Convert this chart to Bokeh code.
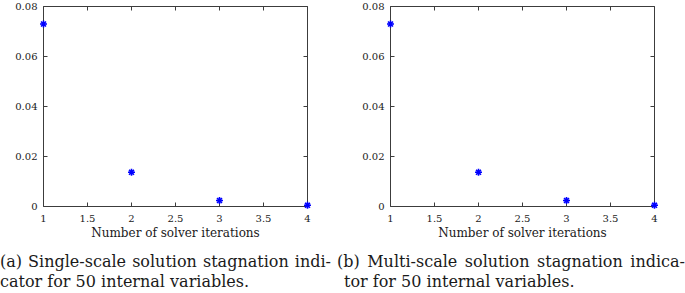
import math
from bokeh.plotting import figure
from bokeh.models import Range1d, FixedTicker, Div
from bokeh.layouts import row, column
from bokeh.embed import file_html
from bokeh.resources import INLINE

# ---- data ----
iterations = [1, 2, 3, 4]
single_scale = [0.0730, 0.0137, 0.0024, 0.0005]
multi_scale = [0.0730, 0.0137, 0.0024, 0.0005]

x_ticks = [1, 1.5, 2, 2.5, 3, 3.5, 4]
x_tick_labels = ["1", "1.5", "2", "2.5", "3", "3.5", "4"]
y_ticks = [0, 0.02, 0.04, 0.06, 0.08]
y_tick_labels = ["0", "0.02", "0.04", "0.06", "0.08"]

x_label = "Number of solver iterations"
caption_a = ["(a) Single-scale solution stagnation indi-", "cator for 50 internal variables."]
caption_b = ["(b) Multi-scale solution stagnation indica-", "tor for 50 internal variables."]

FONT = "DejaVu Serif"
AX = "#3c3c3c"
TXT = "#1a1a1a"

BOX_W, BOX_H, PAD = 264, 200, 6   # axes box size in px, padding so edge markers are not cut


def make_panel(values, left_border, right_border):
    x0, x1 = x_ticks[0], x_ticks[-1]
    y0, y1 = y_ticks[0], y_ticks[-1]
    px = (x1 - x0) * PAD / BOX_W
    py = (y1 - y0) * PAD / BOX_H
    p = figure(frame_width=BOX_W + 2 * PAD, frame_height=BOX_H + 2 * PAD,
               output_backend="svg", toolbar_location=None,
               x_range=Range1d(x0 - px, x1 + px), y_range=Range1d(y0 - py, y1 + py),
               min_border_left=left_border, min_border_right=right_border,
               min_border_top=0, min_border_bottom=40)
    p.xgrid.visible = False
    p.ygrid.visible = False
    p.outline_line_color = None
    p.background_fill_color = "white"
    p.border_fill_color = "white"

    # axes box
    p.quad(left=x0, right=x1, bottom=y0, top=y1, fill_color=None,
           line_color=AX, line_width=1)
    # inward ticks on all four edges
    n, m = len(x_ticks), len(y_ticks)
    p.ray(x=x_ticks, y=[y1] * n, length=4, length_units="screen",
          angle=-math.pi / 2, line_color=AX, line_width=1)
    p.ray(x=x_ticks, y=[y0] * n, length=4, length_units="screen",
          angle=math.pi / 2, line_color=AX, line_width=1)
    p.ray(x=[x1] * m, y=y_ticks, length=4, length_units="screen",
          angle=math.pi, line_color=AX, line_width=1)
    p.ray(x=[x0] * m, y=y_ticks, length=4, length_units="screen",
          angle=0, line_color=AX, line_width=1)

    xa = p.xaxis[0]
    xa.ticker = FixedTicker(ticks=x_ticks)
    xa.major_label_overrides = dict(zip(x_ticks, x_tick_labels))
    ya = p.yaxis[0]
    ya.ticker = FixedTicker(ticks=y_ticks)
    ya.major_label_overrides = dict(zip(y_ticks, y_tick_labels))
    for ax in (xa, ya):
        ax.axis_line_color = None
        ax.major_tick_line_color = None
        ax.major_tick_in = 0
        ax.major_tick_out = 0
        ax.minor_tick_line_color = None
        ax.minor_tick_in = 0
        ax.minor_tick_out = 0
        ax.major_label_text_font = FONT
        ax.major_label_text_font_size = "10px"
        ax.major_label_text_color = TXT
        ax.major_label_standoff = 0
    xa.major_label_standoff = 2
    xa.axis_label = x_label
    xa.axis_label_text_font = FONT
    xa.axis_label_text_font_style = "normal"
    xa.axis_label_text_font_size = "12px"
    xa.axis_label_text_color = TXT
    xa.axis_label_standoff = 1

    p.scatter(iterations, values, marker="asterisk", size=7, line_width=1.6,
              line_color="#0000ff")
    return p


def caption(lines, width, text_width, indent):
    html = (
        f'<div style="width:{text_width}px;font-family:\'{FONT}\';'
        f'font-size:16px;line-height:20px;color:{TXT};">'
        f'<div style="text-align:justify;text-align-last:justify;white-space:nowrap;">{lines[0]}</div>'
        f'<div style="white-space:nowrap;padding-left:{indent}px;">{lines[1]}</div></div>'
    )
    return Div(text=html, width=width, height=41, margin=0)


p1 = make_panel(single_scale, 37, 30)
p2 = make_panel(multi_scale, 41, 25)

layout = column(row(p1, p2),
                row(caption(caption_a, 337, 331, 0), caption(caption_b, 348, 348, 7)))

open("out.html", "w").write(file_html(layout, INLINE))
